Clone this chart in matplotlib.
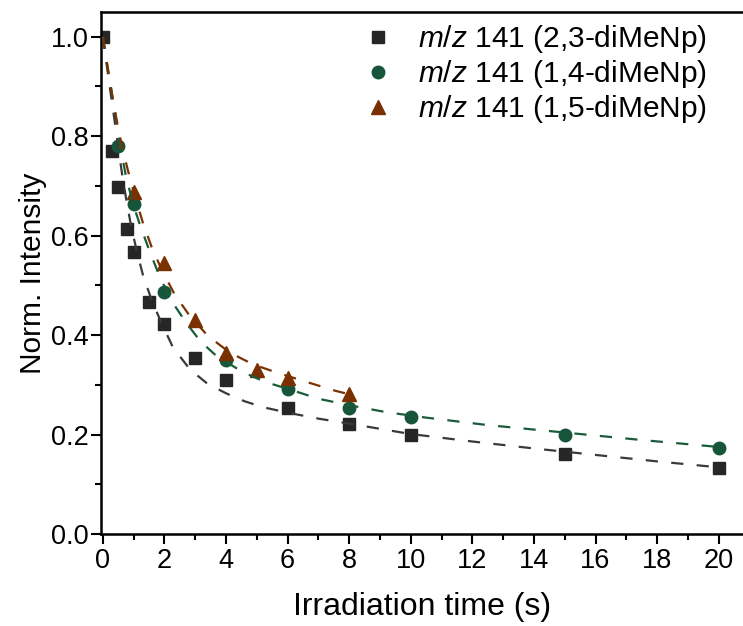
import numpy as np
import matplotlib
matplotlib.use("Agg")
import matplotlib.pyplot as plt
from matplotlib.ticker import MultipleLocator

plt.rcParams['font.family'] = ['Liberation Sans', 'DejaVu Sans']
plt.rcParams['mathtext.fontset'] = 'custom'
plt.rcParams['mathtext.it'] = 'Liberation Sans:italic'
plt.rcParams['mathtext.rm'] = 'Liberation Sans'

# measured points
t_23 = [0, 0.3, 0.5, 0.8, 1, 1.5, 2, 3, 4, 6, 8, 10, 15, 20]
i_23 = [1.0, 0.771, 0.697, 0.614, 0.567, 0.466, 0.422, 0.354, 0.310, 0.253, 0.221, 0.199, 0.161, 0.133]

t_14 = [0.5, 1, 2, 4, 6, 8, 10, 15, 20]
i_14 = [0.781, 0.663, 0.486, 0.350, 0.292, 0.253, 0.235, 0.200, 0.172]

t_15 = [1, 2, 3, 4, 5, 6, 8]
i_15 = [0.688, 0.545, 0.431, 0.364, 0.330, 0.313, 0.282]

# fit curves
fit_23_t = [0, 0.14, 0.26, 0.38, 0.5, 0.62, 0.76, 0.91, 1.09, 1.31, 1.6, 1.9, 2.28, 2.83, 3.4,
            4.0, 4.6, 5.2, 6.0, 7.0, 8.0, 10, 12, 14, 16, 18, 20]
fit_23_i = [1.0, 0.937, 0.884, 0.832, 0.779, 0.726, 0.673, 0.622, 0.572, 0.519, 0.468, 0.425, 0.375,
            0.331, 0.302, 0.283, 0.267, 0.255, 0.244, 0.232, 0.222, 0.201, 0.186, 0.172, 0.159, 0.146, 0.134]

fit_14_t = [0, 0.16, 0.3, 0.44, 0.58, 0.74, 0.98, 1.22, 1.53, 1.85, 2.24, 2.67, 3.16, 3.69, 4.56,
            5.31, 6.0, 7.0, 8.0, 9.2, 10.5, 12.5, 15, 17.5, 20]
fit_14_i = [1.0, 0.937, 0.884, 0.832, 0.775, 0.723, 0.664, 0.619, 0.567, 0.517, 0.468, 0.428, 0.388,
            0.358, 0.325, 0.305, 0.292, 0.272, 0.259, 0.245, 0.234, 0.219, 0.204, 0.189, 0.175]

fit_15_t = [0, 0.16, 0.30, 0.45, 0.62, 0.82, 1.04, 1.3, 1.58, 1.9, 2.33, 2.83, 3.42, 4.12, 4.88,
            5.63, 6.5, 7.55, 8.0]
fit_15_i = [1.0, 0.937, 0.884, 0.832, 0.78, 0.73, 0.68, 0.626, 0.578, 0.533, 0.482, 0.438, 0.398,
            0.365, 0.341, 0.325, 0.308, 0.288, 0.281]

labels = [r'$\mathit{m/z}$ 141 (2,3-diMeNp)',
          r'$\mathit{m/z}$ 141 (1,4-diMeNp)',
          r'$\mathit{m/z}$ 141 (1,5-diMeNp)']

c_sq = '#262626'
c_ci = '#17553a'
c_tr = '#7a3000'

fig = plt.figure(figsize=(7.43, 6.26), dpi=100)
ax = fig.add_axes([0.1355, 0.147, 0.8645, 0.834])

ax.plot(t_23, i_23, 's', color=c_sq, ms=8.5, ls='none', label=labels[0], zorder=2)
ax.plot(t_14, i_14, 'o', color=c_ci, ms=9, ls='none', label=labels[1], zorder=3)
ax.plot(t_15, i_15, '^', color=c_tr, ms=10, ls='none', label=labels[2], zorder=4)

ax.plot(fit_23_t, fit_23_i, color='#3a3a3a', lw=1.6, dashes=(5.5, 6), zorder=5)
ax.plot(fit_14_t, fit_14_i, color='#1a5c3a', lw=1.6, dashes=(5.5, 6), zorder=6)
ax.plot(fit_15_t, fit_15_i, color='#7a3300', lw=1.6, dashes=(5.5, 6), zorder=7)

ax.set_xlim(-0.07, 20.79)
ax.set_ylim(0, 1.05)
ax.xaxis.set_major_locator(MultipleLocator(2))
ax.xaxis.set_minor_locator(MultipleLocator(1))
ax.yaxis.set_major_locator(MultipleLocator(0.2))
ax.yaxis.set_minor_locator(MultipleLocator(0.1))
ax.yaxis.set_major_formatter(plt.FormatStrFormatter('%.1f'))

ax.spines['right'].set_visible(False)
for s in ['left', 'bottom', 'top']:
    ax.spines[s].set_linewidth(1.8)
ax.tick_params(which='major', direction='out', length=7, width=1.5, labelsize=19.5)
ax.tick_params(axis='x', which='major', pad=3)
ax.tick_params(axis='y', which='major', pad=1.5)
ax.tick_params(which='minor', direction='out', length=4.3, width=1.5)

ax.set_xlabel('Irradiation time (s)', fontsize=23, labelpad=13)
ax.set_ylabel('Norm. Intensity', fontsize=21.5, labelpad=3)

ax.legend(loc='upper left', bbox_to_anchor=(363 / 743, 1 - 23 / 626), bbox_transform=fig.transFigure,
          frameon=False, fontsize=21.5, handlelength=1.0, handletextpad=0.84, borderpad=0,
          borderaxespad=0, labelspacing=0.1, markerscale=1.0)

fig.savefig('out.png', dpi=100)
